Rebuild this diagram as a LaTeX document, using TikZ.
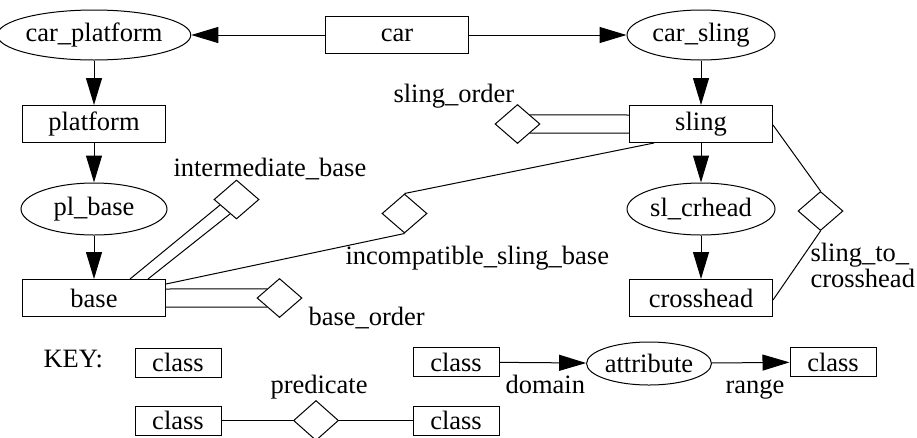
\documentclass[tikz,border=0pt]{standalone}
\usepackage{fontspec}
\setmainfont{Liberation Serif}
\usetikzlibrary{arrows.meta,shapes.geometric,calc}
\begin{document}
\begin{tikzpicture}[x=1pt,y=-1pt,
  font=\fontsize{26.5}{28}\selectfont, line width=1pt,
  cls/.style={draw, rectangle, minimum width=143pt, minimum height=37pt, inner sep=0pt},
  kcls/.style={draw, rectangle, minimum width=86pt, minimum height=29pt, inner sep=0pt},
  attr/.style={draw, ellipse, inner sep=0pt},
  pred/.style={draw, diamond, minimum width=45pt, minimum height=39pt, inner sep=0pt},
  arr/.style={-{Triangle[length=27pt,width=16pt]}},
  lbl/.style={inner sep=0pt, anchor=base west}
]
\useasboundingbox (0,0) rectangle (917,437);
% main nodes
\node[attr, minimum width=170pt, minimum height=50pt] (carplatform) at (94,35) {car\_platform};
\node[cls] (car) at (397,35) {car};
\node[attr, minimum width=148pt, minimum height=50pt] (carsling) at (701,35) {car\_sling};
\node[cls] (platform) at (94,124) {platform};
\node[attr, minimum width=146pt, minimum height=52pt] (plbase) at (94,209) {pl\_base};
\node[cls] (base) at (94,298) {base};
\node[cls] (sling) at (701,124) {sling};
\node[attr, minimum width=148pt, minimum height=52pt] (slcrhead) at (701,209) {sl\_crhead};
\node[cls] (crosshead) at (701,298) {crosshead};
% predicate diamonds
\node[pred] (slingorder) at (517.5,124) {};
\node[pred] (stoc) at (820.5,211) {};
\node[pred] (isb) at (404.5,213.5) {};
\node[pred] (ib) at (236.5,199.5) {};
\node[pred] (bo) at (279.5,298) {};
% labels
\node[lbl] (lslingorder) at (393,102) {sling\_order};
\node[lbl] (lib) at (173,176) {intermediate\_base};
\node[lbl] (lisb) at (345,264) {incompatible\_sling\_base};
\node[lbl] (lbo) at (308,325) {base\_order};
\node[lbl, align=left, font=\fontsize{26.5}{20}\selectfont] (lstoc) at (810,287) {sling\_to\_\\crosshead};
% arrows
\draw[arr] (car) -- (carplatform);
\draw[arr] (car) -- (carsling);
\draw[arr] (carplatform) -- (platform);
\draw[arr] (platform) -- (plbase);
\draw[arr] (plbase) -- (base);
\draw[arr] (carsling) -- (sling);
\draw[arr] (sling) -- (slcrhead);
\draw[arr] (slcrhead) -- (crosshead);
% double lines
\draw ([yshift=9pt]sling.west) -- ($(slingorder.north)!0.54!(slingorder.east)$);
\draw ([yshift=-9pt]sling.west) -- ($(slingorder.south)!0.54!(slingorder.east)$);
\draw ([yshift=9pt]base.east) -- ($(bo.north)!0.54!(bo.west)$);
\draw ([yshift=-9pt]base.east) -- ($(bo.south)!0.54!(bo.west)$);
\draw ([xshift=36pt]base.north) -- ($(ib.west)!0.28!(ib.south)$);
\draw ([xshift=54pt]base.north) -- ($(ib.west)!0.72!(ib.south)$);
% single lines
\draw ([xshift=-47pt]sling.south) -- (isb.north);
\draw (isb.south) -- ([yshift=14pt]base.east);
\draw ([yshift=-1pt]sling.east) -- (stoc.north);
\draw (stoc.south) -- ([yshift=-2pt]crosshead.east);
% key
\node[lbl] (key) at (43,367) {KEY:};
\node[kcls] (k1) at (178,362.5) {class};
\node[kcls] (kd) at (456,362) {class};
\node[attr, minimum width=120pt, minimum height=43pt] (kattr) at (649,363.5) {attribute};
\node[kcls] (kr) at (833,362) {class};
\draw[arr] (kd) -- (kattr);
\draw[arr] (kattr) -- (kr);
\node[lbl] (ldomain) at (505,393) {domain};
\node[lbl] (lrange) at (725,393) {range};
\node[kcls] (kp1) at (178,420.5) {class};
\node[pred, minimum height=40pt] (kpred) at (316,420.5) {};
\node[kcls] (kp2) at (456,420.5) {class};
\draw (kp1) -- (kpred);
\draw (kpred) -- (kp2);
\node[lbl] (lpred) at (270,393) {predicate};
\end{tikzpicture}
\end{document}
